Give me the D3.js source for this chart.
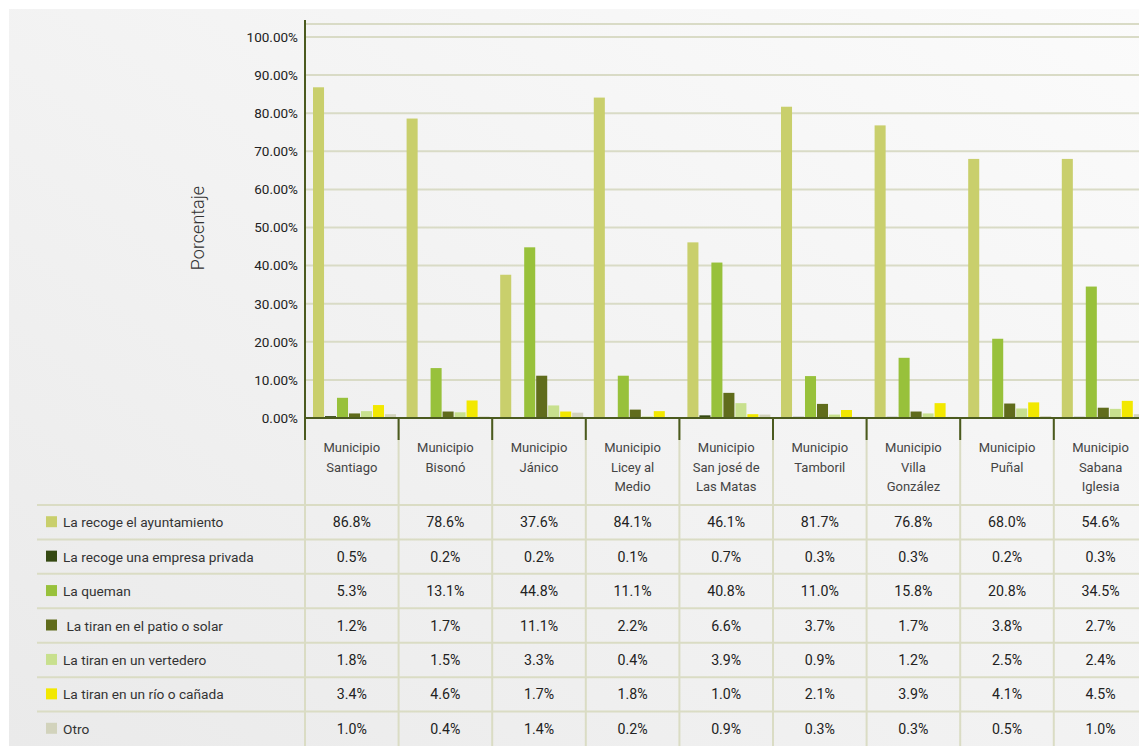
<!DOCTYPE html>
<html>
<head>
<meta charset="utf-8">
<title>Destino de la basura por municipio</title>
<script src="https://cdn.jsdelivr.net/npm/d3@7/dist/d3.min.js"></script>
<style>
  html, body { margin: 0; padding: 0; background: #fff; }
  svg { display: block; font-family: "Roboto", "Liberation Sans", sans-serif; }
</style>
</head>
<body>
<div id="chart"></div>
<script>
// municipios (columnas)
var municipios = ["Santiago", "Bisonó", "Jánico", "Licey al Medio", "San josé de Las Matas",
                  "Tamboril", "Villa González", "Puñal", "Sabana Iglesia"];
var headerLines = [["Municipio", "Santiago"], ["Municipio", "Bisonó"], ["Municipio", "Jánico"],
                   ["Municipio", "Licey al", "Medio"], ["Municipio", "San josé de", "Las Matas"],
                   ["Municipio", "Tamboril"], ["Municipio", "Villa", "González"],
                   ["Municipio", "Puñal"], ["Municipio", "Sabana", "Iglesia"]];

// series (porcentaje)
var ayuntamiento = [86.8, 78.6, 37.6, 84.1, 46.1, 81.7, 76.8, 68.0, 54.6];
var empresa      = [0.5, 0.2, 0.2, 0.1, 0.7, 0.3, 0.3, 0.2, 0.3];
var queman       = [5.3, 13.1, 44.8, 11.1, 40.8, 11.0, 15.8, 20.8, 34.5];
var patio        = [1.2, 1.7, 11.1, 2.2, 6.6, 3.7, 1.7, 3.8, 2.7];
var vertedero    = [1.8, 1.5, 3.3, 0.4, 3.9, 0.9, 1.2, 2.5, 2.4];
var rio          = [3.4, 4.6, 1.7, 1.8, 1.0, 2.1, 3.9, 4.1, 4.5];
var otro         = [1.0, 0.4, 1.4, 0.2, 0.9, 0.3, 0.3, 0.5, 1.0];
// en el gráfico original la barra de Sabana Iglesia se dibuja en ~68%
var ayuntamientoBarra = [86.8, 78.6, 37.6, 84.1, 46.1, 81.7, 76.8, 68.0, 68.0];

var seriesNames = ["La recoge el ayuntamiento", "La recoge una empresa privada", "La queman",
                   " La tiran en el patio o solar", "La tiran en un vertedero",
                   "La tiran en un río o cañada", "Otro"];
var tableRows = [ayuntamiento, empresa, queman, patio, vertedero, rio, otro];
var barRows   = [ayuntamientoBarra, empresa, queman, patio, vertedero, rio, otro];
var colors = ["#c9cf6c", "#354912", "#98c13b", "#606c1c", "#c8e08e", "#f2e800", "#d2d3bc"];
var yTicks = [0, 10, 20, 30, 40, 50, 60, 70, 80, 90, 100];

var width = 1139, height = 746;
var svg = d3.select("#chart").append("svg")
    .attr("width", width).attr("height", height);

// fondo gris con degradado
var grad = svg.append("defs").append("linearGradient")
    .attr("id", "bg").attr("x1", "100%").attr("y1", "0%").attr("x2", "0%").attr("y2", "100%");
grad.append("stop").attr("offset", "0%").attr("stop-color", "#fbfbfb");
grad.append("stop").attr("offset", "100%").attr("stop-color", "#eaeaea");
svg.append("rect").attr("x", 9).attr("y", 9).attr("width", width - 9).attr("height", height - 9)
    .attr("fill", "url(#bg)");

var plotLeft = 305, plotTop = 24, baseY = 418;
var x0 = d3.scaleBand().domain(municipios).range([plotLeft, plotLeft + 93.6 * 9]);
var x1 = d3.scaleBand().domain(d3.range(7)).range([8, 91]).paddingInner(0.08);
var y = d3.scaleLinear().domain([0, 100]).range([baseY, 37]);

// líneas de la cuadrícula
svg.append("g").selectAll("line").data(yTicks.slice(1)).enter().append("line")
    .attr("x1", plotLeft).attr("x2", width)
    .attr("y1", function(d){ return y(d); }).attr("y2", function(d){ return y(d); })
    .attr("stroke", "#d9dbc6").attr("stroke-width", 2);
svg.append("line").attr("x1", plotLeft).attr("x2", width).attr("y1", plotTop).attr("y2", plotTop)
    .attr("stroke", "#d9dbc6").attr("stroke-width", 2);

// barras
var groups = svg.append("g").selectAll("g").data(municipios).enter().append("g")
    .attr("transform", function(d){ return "translate(" + x0(d) + ",0)"; });
groups.selectAll("rect")
    .data(function(d, i){ return barRows.map(function(r, k){ return {k: k, v: r[i]}; }); })
    .enter().append("rect")
    .attr("x", function(d){ return x1(d.k); })
    .attr("width", x1.bandwidth())
    .attr("y", function(d){ return y(d.v); })
    .attr("height", function(d){ return baseY - y(d.v); })
    .attr("fill", function(d){ return colors[d.k]; });

// eje y
var yAxis = svg.append("g").attr("transform", "translate(" + plotLeft + ",0)")
    .call(d3.axisLeft(y).tickValues(yTicks).tickSize(0).tickPadding(7)
        .tickFormat(function(d){ return d.toFixed(2) + "%"; }));
yAxis.select(".domain").remove();
yAxis.selectAll("text").attr("font-size", 13.5).attr("fill", "#222")
    .attr("font-family", "Roboto, sans-serif");
svg.append("line").attr("x1", plotLeft).attr("x2", plotLeft).attr("y1", 20).attr("y2", baseY)
    .attr("stroke", "#4b5a1f").attr("stroke-width", 2);

svg.append("text")
    .attr("transform", "translate(204,228) rotate(-90)")
    .attr("text-anchor", "middle").attr("font-size", 18).attr("font-weight", 300)
    .attr("fill", "#333")
    .text("Porcentaje");

// tabla: líneas
var colEdges = municipios.map(function(d){ return x0(d); });
var rowY = d3.scaleLinear().domain([0, 7]).range([505, 746]);
var tbl = svg.append("g");
tbl.selectAll(".vline").data(colEdges.concat([plotLeft + 93.6 * 9])).enter().append("line")
    .attr("x1", function(d){ return d; }).attr("x2", function(d){ return d; })
    .attr("y1", baseY).attr("y2", height)
    .attr("stroke", "#dadcc4").attr("stroke-width", 2);
tbl.selectAll(".hline").data(d3.range(7)).enter().append("line")
    .attr("x1", 37).attr("x2", width)
    .attr("y1", function(d){ return rowY(d); }).attr("y2", function(d){ return rowY(d); })
    .attr("stroke", "#dadcc4").attr("stroke-width", 2);

// eje x y marcas oscuras
svg.append("line").attr("x1", plotLeft).attr("x2", width).attr("y1", baseY).attr("y2", baseY)
    .attr("stroke", "#4b5a1f").attr("stroke-width", 2);
svg.append("g").selectAll("line").data(colEdges).enter().append("line")
    .attr("x1", function(d){ return d; }).attr("x2", function(d){ return d; })
    .attr("y1", baseY).attr("y2", 440)
    .attr("stroke", "#4b5a1f").attr("stroke-width", 2);

// encabezados
svg.append("g").selectAll("text").data(municipios).enter().append("text")
    .attr("text-anchor", "middle").attr("font-size", 13).attr("fill", "#444")
    .attr("x", function(d){ return x0(d) + x0.bandwidth() / 2; })
    .attr("y", 452)
    .each(function(d, i){
        var t = d3.select(this);
        headerLines[i].forEach(function(line, j){
            t.append("tspan").attr("x", x0(d) + x0.bandwidth() / 2)
                .attr("dy", j === 0 ? 0 : 19.5).text(line);
        });
    });

// filas de la tabla
var rows = svg.append("g").selectAll("g").data(seriesNames).enter().append("g")
    .attr("transform", function(d, k){ return "translate(0," + (rowY(k) + rowY(k + 1)) / 2 + ")"; });
rows.append("rect").attr("x", 46).attr("y", -6).attr("width", 11).attr("height", 11)
    .attr("fill", function(d, k){ return colors[k]; });
rows.append("text").attr("x", 63).attr("y", 5).attr("font-size", 13.7).attr("fill", "#333")
    .attr("xml:space", "preserve").style("white-space", "pre")
    .text(function(d){ return d; });
rows.each(function(d, k){
    d3.select(this).selectAll(".val").data(tableRows[k]).enter().append("text")
        .attr("text-anchor", "middle").attr("font-size", 14.2).attr("fill", "#222")
        .attr("x", function(v, i){ return x0(municipios[i]) + x0.bandwidth() / 2; })
        .attr("y", 5)
        .text(function(v){ return v.toFixed(1) + "%"; });
});
</script>
</body>
</html>
